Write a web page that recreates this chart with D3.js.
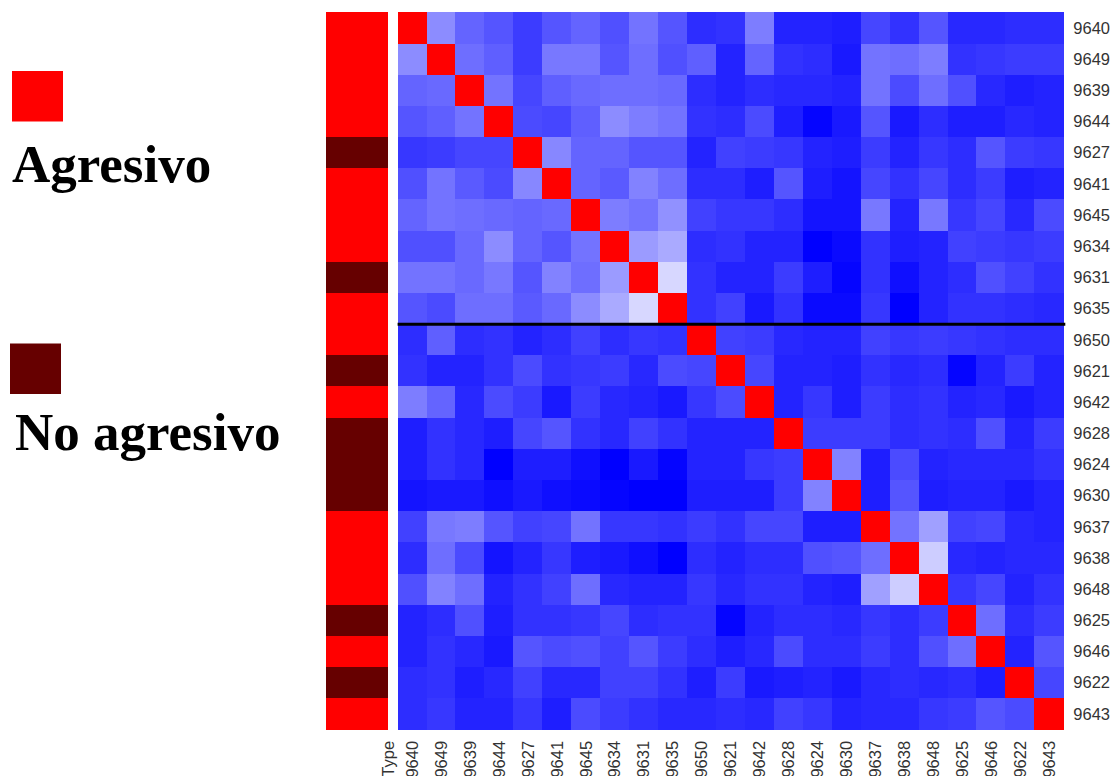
<!DOCTYPE html>
<html>
<head>
<meta charset="utf-8">
<script src="https://cdn.jsdelivr.net/npm/d3@7"></script>
<style>
  html, body { margin: 0; padding: 0; background: #ffffff; }
  svg { display: block; }
</style>
</head>
<body>
<svg id="chart" width="1114" height="776"></svg>
<script>
// ---- DATA ----
const samples = ["9640","9649","9639","9644","9627","9641","9645","9634","9631","9635",
                 "9650","9621","9642","9628","9624","9630","9637","9638","9648","9625",
                 "9646","9622","9643"];
const sampleTypes = ["Agresivo","Agresivo","Agresivo","Agresivo","No agresivo","Agresivo","Agresivo","Agresivo","No agresivo","Agresivo",
                     "Agresivo","No agresivo","Agresivo","No agresivo","No agresivo","No agresivo","Agresivo","Agresivo","Agresivo","No agresivo",
                     "Agresivo","No agresivo","Agresivo"];
const typeCategories = ["Agresivo", "No agresivo"];
const typeColors = ["#ff0000", "#660000"];
// similarity score (0 = least similar, 255 = most similar); null = the sample with itself
const similarity = [
  [null,140,100,85,60,85,100,80,115,85,45,50,125,35,35,30,70,50,85,40,40,45,45],
  [140,null,110,95,60,120,120,85,110,80,95,35,100,50,45,25,115,110,125,50,55,60,60],
  [100,105,null,115,70,95,105,110,110,105,45,35,45,40,40,35,115,75,110,80,40,30,35],
  [85,95,115,null,75,70,95,140,125,115,50,45,75,30,5,25,85,25,45,30,30,40,35],
  [55,60,70,70,null,135,100,100,85,85,35,65,60,55,35,30,60,35,55,45,85,60,55],
  [80,115,90,75,135,null,100,90,130,110,45,45,30,85,30,20,70,50,70,45,60,30,35],
  [100,115,110,105,100,105,null,125,115,145,65,55,55,45,20,20,120,35,120,55,70,40,75],
  [80,80,105,140,100,85,115,null,155,170,45,50,35,35,0,10,50,30,35,65,60,55,60],
  [115,115,105,120,85,130,110,155,null,215,50,35,35,60,30,5,50,15,35,45,80,65,50],
  [85,75,110,110,90,105,140,170,215,null,50,65,25,50,10,10,55,0,35,50,50,45,40],
  [45,95,45,50,35,45,65,45,55,50,null,65,60,40,35,35,65,55,60,55,50,45,45],
  [50,35,35,50,75,50,55,60,40,75,70,null,70,35,35,30,50,40,45,5,35,60,35],
  [125,100,40,75,60,25,60,40,35,25,55,75,null,35,55,30,60,45,50,35,40,25,35],
  [30,50,40,30,70,85,50,40,65,50,35,35,35,null,60,60,60,45,50,45,80,35,60],
  [30,50,40,0,30,30,15,0,25,5,35,35,55,60,null,130,30,75,35,40,40,40,50],
  [20,25,25,15,25,15,10,5,0,0,30,30,30,60,130,null,30,85,30,35,35,25,35],
  [65,120,125,85,65,70,115,55,55,50,60,50,70,70,30,30,null,115,160,65,70,40,35],
  [45,110,75,20,35,55,30,25,15,0,45,35,45,45,80,85,110,null,205,40,35,40,40],
  [80,130,110,35,50,65,110,40,35,35,55,40,50,50,35,30,160,205,null,55,70,35,50],
  [35,45,80,30,50,50,55,70,45,50,50,5,35,45,45,40,55,45,60,null,110,45,60],
  [35,50,40,25,85,75,80,65,85,60,45,30,40,75,45,45,60,45,80,110,null,35,85],
  [45,50,30,40,65,40,40,65,65,50,30,60,25,30,35,25,40,45,40,45,30,null,70],
  [45,55,35,35,55,30,75,60,50,40,40,45,40,65,55,35,40,40,55,60,85,75,null]
];
const splitAfter = "9635";   // group separator line
const typeLabel = "Type";

// ---- LAYOUT ----
const svg = d3.select("#chart");
const hm = { left: 397.6, right: 1063.3, top: 12.4, bottom: 729.4 };
const typeCol = { left: 325.7, right: 387.7 };

const x = d3.scaleBand().domain(samples).range([hm.left, hm.right]).padding(0);
const y = d3.scaleBand().domain(samples).range([hm.top, hm.bottom]).padding(0);
const color = d3.scaleLinear().domain([0, 255]).range(["#0000ff", "#ffffff"]).interpolate(d3.interpolateRgb);
const typeColor = d3.scaleOrdinal().domain(typeCategories).range(typeColors);

const cells = [];
samples.forEach((r, i) => samples.forEach((c, j) => cells.push({ r, c, v: similarity[i][j] })));

svg.append("g").selectAll("rect").data(cells).join("rect")
  .attr("x", d => x(d.c))
  .attr("y", d => y(d.r))
  .attr("width", x.bandwidth() + 0.4)
  .attr("height", y.bandwidth() + 0.4)
  .attr("fill", d => d.v === null ? "#ff0000" : color(d.v))
  .attr("shape-rendering", "crispEdges");

// type column
svg.append("g").selectAll("rect").data(samples).join("rect")
  .attr("x", typeCol.left)
  .attr("y", d => y(d))
  .attr("width", typeCol.right - typeCol.left)
  .attr("height", y.bandwidth() + 0.4)
  .attr("fill", (d, i) => typeColor(sampleTypes[i]))
  .attr("shape-rendering", "crispEdges");

// separator line
const sepY = y(splitAfter) + y.bandwidth();
svg.append("line")
  .attr("x1", hm.left).attr("x2", hm.right + 2)
  .attr("y1", sepY).attr("y2", sepY)
  .attr("stroke", "#000").attr("stroke-width", 3);

// right labels
const yAxis = d3.axisRight(y).tickSize(0).tickPadding(10);
const gy = svg.append("g").attr("transform", `translate(${hm.right},0)`).call(yAxis);
gy.select(".domain").remove();
gy.selectAll("text").attr("font-family", "'Liberation Sans', Arial, sans-serif")
  .attr("font-size", 16.5).attr("fill", "#333").attr("dy", "0.35em");

// bottom labels
const xAxis = d3.axisBottom(x).tickSize(0).tickPadding(0);
const gx = svg.append("g").attr("transform", `translate(0,${hm.bottom})`).call(xAxis);
gx.select(".domain").remove();
gx.selectAll("text")
  .attr("font-family", "'Liberation Sans', Arial, sans-serif")
  .attr("font-size", 16.5).attr("fill", "#333")
  .attr("text-anchor", "end")
  .attr("transform", "translate(0,11.5) rotate(-90)")
  .attr("x", 0).attr("y", 0).attr("dy", "0.35em");

svg.append("text")
  .attr("transform", `translate(388.5,${hm.bottom + 11.5}) rotate(-90)`)
  .attr("text-anchor", "end").attr("dy", "0.35em")
  .attr("font-family", "'Liberation Sans', Arial, sans-serif")
  .attr("font-size", 16.5).attr("fill", "#333")
  .text(typeLabel);

// legend
const legendPos = [
  { rx: 12, ry: 71, tx: 12, ty: 181.7 },
  { rx: 10, ry: 343.5, tx: 15, ty: 450 }
];
typeCategories.forEach((t, i) => {
  const p = legendPos[i];
  svg.append("rect").attr("x", p.rx).attr("y", p.ry).attr("width", 51).attr("height", 50.5)
    .attr("fill", typeColor(t));
  svg.append("text").attr("x", p.tx).attr("y", p.ty)
    .attr("font-family", "'Liberation Serif', 'Times New Roman', serif")
    .attr("font-weight", "bold").attr("font-size", 53).attr("fill", "#000")
    .text(t);
});
</script>
</body>
</html>
